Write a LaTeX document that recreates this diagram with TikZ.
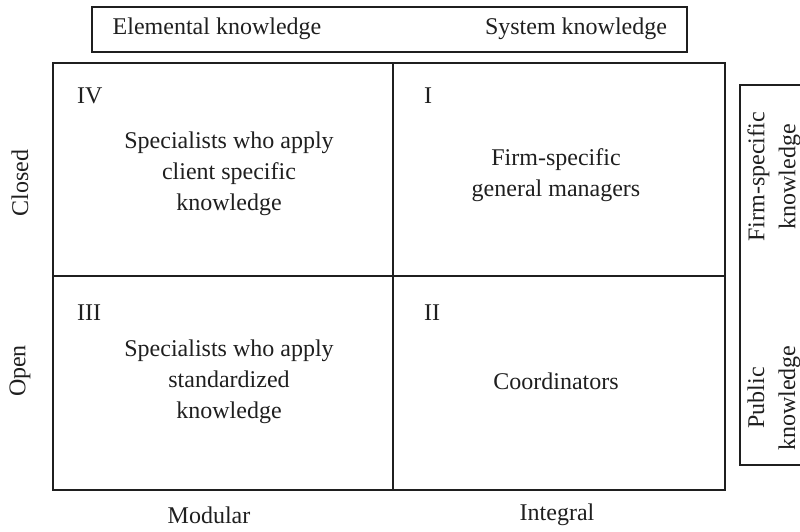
\documentclass[tikz,border=0pt]{standalone}
\usepackage{fontspec}
\setmainfont{Liberation Serif}
\begin{document}
\begin{tikzpicture}[x=1pt,y=-1pt,
  frame/.style={draw=black!88, line width=2.8pt},
  txt/.style={font=\fontsize{24}{31}\selectfont, inner sep=0pt, align=center, text=black!88},
  sidelbl/.style={txt, rotate=90}]
  \useasboundingbox (0,0) rectangle (800,532);

  % top header box
  \draw[frame] (92,7) rectangle (687,52);
  \node[txt] (elem) at (217,29) {Elemental knowledge};
  \node[txt] (sys) at (576,29) {System knowledge};

  % the 2x2 matrix
  \draw[frame] (53,63) rectangle (725,490);
  \draw[frame] (393,63) -- (393,490);
  \draw[frame] (53,276) -- (725,276);

  % quadrant numerals
  \node[txt, anchor=west] (q4) at (77,96) {IV};
  \node[txt, anchor=west] (q1) at (424,96) {I};
  \node[txt, anchor=west] (q3) at (77,313) {III};
  \node[txt, anchor=west] (q2) at (424,313) {II};

  % quadrant contents
  \node[txt] (c4) at (229,174) {Specialists who apply\\client specific\\knowledge};
  \node[txt] (c1) at (556,175) {Firm-specific\\general managers};
  \node[txt] (c3) at (229,382) {Specialists who apply\\standardized\\knowledge};
  \node[txt] (c2) at (556,381) {Coordinators};

  % axis labels
  \node[sidelbl] (closed) at (20,183) {Closed};
  \node[sidelbl] (open) at (20,371) {Open};
  \node[txt] (mod) at (209,515) {Modular};
  \node[txt] (int) at (557,515) {Integral};

  % right-hand box
  \draw[frame] (740,85) rectangle (815,465);
  \node[sidelbl] (firm) at (774,177) {Firm-specific\\knowledge};
  \node[sidelbl] (pub) at (774,398) {Public\\knowledge};
\end{tikzpicture}
\end{document}
